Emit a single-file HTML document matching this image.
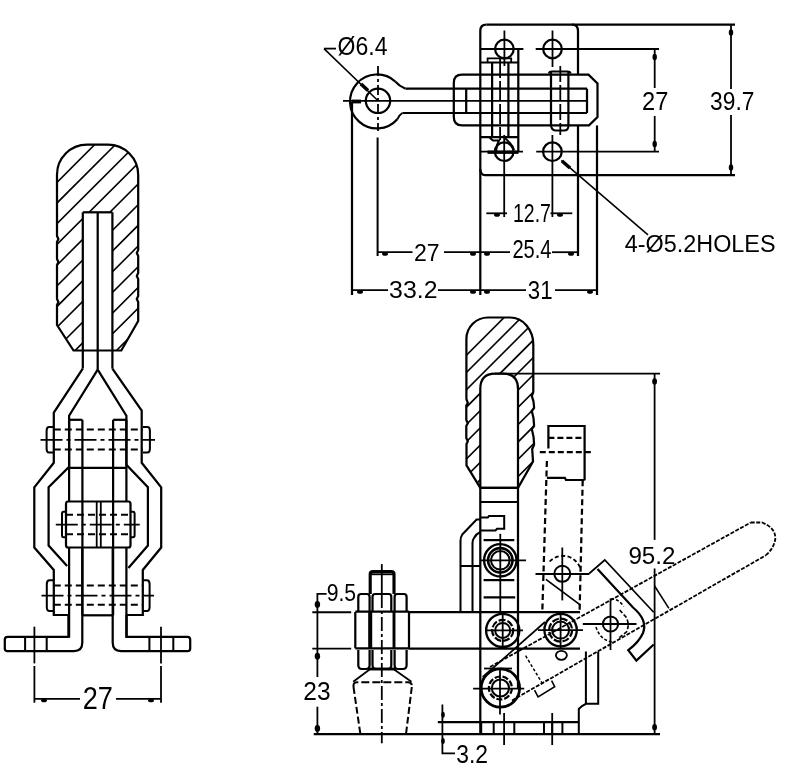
<!DOCTYPE html>
<html><head><meta charset="utf-8"><style>
html,body{margin:0;padding:0;background:#fff;}
svg{display:block;}
text{font-family:"Liberation Sans",sans-serif;fill:#000;}
svg{will-change:transform;}
</style></head><body>
<svg width="790" height="782" viewBox="0 0 790 782">
<defs><clipPath id="gl"><path d="M87 144.7 H108 A30.2 30.2 0 0 1 138.2 174.9 V250 L136.8 253 L138.2 256 V273 L136.8 276 L138.2 279 V296 L136.8 299 L138.2 302 V321 L121.3 350.5 H73.5 L57 325 V305 L58.4 302 L57 299 V265 L58.4 262 L57 259 V242 L58.4 239 L57 236 V174.9 A30 30 0 0 1 87 144.7 Z M82.8 212.3 V350.5 H112.4 V212.3 Z" clip-rule="evenodd"/></clipPath><clipPath id="gf"><path d="M488 317.5 H510.2 A23.1 27 0 0 1 533.3 344.5 L533.3 392 L531.8 396 Q534.3 402 534 408 L531.8 411 Q534.3 419 534 426 L531.8 429 Q534.3 438 534 445 L532.2 449 L533 461.6 L518 487.8 H480.3 L466.5 465.4 V444 L467.8 441.2 L466.3 438 V426 L467.8 423.2 L466.3 420 V405.5 L467.8 402.8 L466.4 399 V339 A21.5 21.5 0 0 1 488 317.5 Z M480.3 487.8 V389 Q480.3 373.6 495 373.6 H503 Q518 373.6 518 389 V487.8 Z" clip-rule="evenodd"/></clipPath></defs>
<rect width="790" height="782" fill="#fff"/>
<path d="M480.3 31 Q480.3 24.7 486.5 24.7" fill="none" stroke="#000" stroke-width="2.24"/>
<line x1="486.5" y1="24.7" x2="735" y2="24.7" stroke="#000" stroke-width="2.24"/>
<path d="M572 24.7 Q578 24.7 578 31" fill="none" stroke="#000" stroke-width="2.24"/>
<line x1="578" y1="31" x2="578" y2="74.7" stroke="#000" stroke-width="2.24"/>
<line x1="578" y1="125.4" x2="578" y2="256" stroke="#000" stroke-width="2.24"/>
<line x1="480.3" y1="31" x2="480.3" y2="295" stroke="#000" stroke-width="2.24"/>
<path d="M480.3 169 Q480.5 175.2 485 175.2" fill="none" stroke="#000" stroke-width="2.24"/>
<line x1="485" y1="175.2" x2="735" y2="175.2" stroke="#000" stroke-width="2.24"/>
<circle cx="504.4" cy="49" r="9.3" fill="none" stroke="#000" stroke-width="2.24"/>
<circle cx="552.5" cy="49" r="9.3" fill="none" stroke="#000" stroke-width="2.24"/>
<circle cx="504.2" cy="151.7" r="9.3" fill="none" stroke="#000" stroke-width="2.24"/>
<circle cx="552.4" cy="151.7" r="9.3" fill="none" stroke="#000" stroke-width="2.24"/>
<line x1="480.3" y1="49" x2="523.4" y2="49" stroke="#000" stroke-width="1.79"/>
<line x1="535.7" y1="49" x2="659" y2="49" stroke="#000" stroke-width="1.79"/>
<line x1="480.3" y1="151.7" x2="523" y2="151.7" stroke="#000" stroke-width="1.79"/>
<line x1="536.2" y1="151.7" x2="659" y2="151.7" stroke="#000" stroke-width="1.79"/>
<line x1="504.4" y1="30.5" x2="504.4" y2="66" stroke="#000" stroke-width="1.79"/>
<line x1="552.5" y1="30.5" x2="552.5" y2="67" stroke="#000" stroke-width="1.79"/>
<line x1="504.2" y1="135" x2="504.2" y2="217" stroke="#000" stroke-width="1.79"/>
<line x1="552.4" y1="135" x2="552.4" y2="217" stroke="#000" stroke-width="1.79"/>
<path d="M462 74.7 H588.5 L597.5 83.5 V117 L589 125.4 H462 Q453.8 125.4 453.8 117 V83 Q453.8 74.7 462 74.7 Z" fill="none" stroke="#000" stroke-width="2.24"/>
<line x1="597" y1="125.4" x2="597" y2="295" stroke="#000" stroke-width="2.24"/>
<line x1="405.5" y1="88.7" x2="587" y2="88.7" stroke="#000" stroke-width="2.24"/>
<line x1="402.4" y1="113" x2="587" y2="113" stroke="#000" stroke-width="2.24"/>
<line x1="343" y1="100.8" x2="587" y2="100.8" stroke="#000" stroke-width="1.79"/>
<line x1="466.2" y1="88.7" x2="466.2" y2="113" stroke="#000" stroke-width="2.24"/>
<line x1="587" y1="88.7" x2="587" y2="113" stroke="#000" stroke-width="2.24"/>
<line x1="492.1" y1="62.5" x2="492.1" y2="137.2" stroke="#000" stroke-width="2.24"/>
<line x1="508.4" y1="62.5" x2="508.4" y2="137.2" stroke="#000" stroke-width="2.24"/>
<line x1="518.3" y1="49" x2="518.3" y2="151.7" stroke="#000" stroke-width="2.24"/>
<line x1="500.1" y1="58" x2="500.1" y2="140" stroke="#000" stroke-width="1.79" stroke-dasharray="20 3"/>
<line x1="480.3" y1="62.5" x2="518.3" y2="62.5" stroke="#000" stroke-width="2.24"/>
<line x1="480.3" y1="137.2" x2="518.3" y2="137.2" stroke="#000" stroke-width="2.24"/>
<path d="M487.6 62.5 V58.4 H511.2 V62.5" fill="none" stroke="#000" stroke-width="1.79"/>
<line x1="487.5" y1="152.2" x2="518.5" y2="152.2" stroke="#000" stroke-width="3.36"/>
<path d="M489.4 137.5 L493 140.5 H499 L497 145 L496 152" fill="none" stroke="#000" stroke-width="2.02"/>
<path d="M505 138 L510 143 Q513 146 514 150" fill="none" stroke="#000" stroke-width="1.79"/>
<line x1="551" y1="71.4" x2="551" y2="126" stroke="#000" stroke-width="2.24"/>
<line x1="568.4" y1="71.4" x2="568.4" y2="126" stroke="#000" stroke-width="2.24"/>
<line x1="560.3" y1="66" x2="560.3" y2="135" stroke="#000" stroke-width="1.79" stroke-dasharray="16 3"/>
<path d="M549 73.5 Q549 71.4 552 71.4 H567.5 Q570.5 71.4 570.5 73.5" fill="none" stroke="#000" stroke-width="2.02"/>
<path d="M551 126 Q552 130.5 556 130.5 H564 Q568.4 130.5 568.4 126" fill="none" stroke="#000" stroke-width="2.02"/>
<path d="M395.2 81.5 A27 27 0 1 0 397.3 119.3" fill="none" stroke="#000" stroke-width="2.24"/>
<path d="M395.2 81.5 Q399 86 405.5 88.7" fill="none" stroke="#000" stroke-width="2.02"/>
<path d="M397.3 119.3 Q399 115 402.4 113" fill="none" stroke="#000" stroke-width="2.02"/>
<circle cx="378" cy="100.8" r="12.2" fill="none" stroke="#000" stroke-width="2.24"/>
<line x1="378" y1="66" x2="378" y2="131" stroke="#000" stroke-width="1.79" stroke-dasharray="10 3 3 3"/>
<line x1="377.6" y1="137.5" x2="377.6" y2="256" stroke="#000" stroke-width="2.02"/>
<line x1="352" y1="102" x2="352" y2="295" stroke="#000" stroke-width="2.24"/>
<line x1="324" y1="48.6" x2="378" y2="100.8" stroke="#000" stroke-width="1.57"/>
<line x1="324" y1="48.6" x2="336" y2="48.6" stroke="#000" stroke-width="1.79"/>
<path d="M361 84 L368 90.5" fill="none" stroke="#000" stroke-width="3.58"/>
<line x1="352" y1="101.5" x2="361" y2="101.5" stroke="#000" stroke-width="3.81"/>
<text x="337.59" y="55.48" font-size="24.97" textLength="49.86" lengthAdjust="spacingAndGlyphs">Ø6.4</text>
<line x1="654.7" y1="49" x2="654.7" y2="88" stroke="#000" stroke-width="1.79"/>
<line x1="654.7" y1="116" x2="654.7" y2="151.7" stroke="#000" stroke-width="1.79"/>
<ellipse cx="654.7" cy="57" rx="2.2" ry="3.2" fill="#000"/>
<ellipse cx="654.7" cy="144" rx="2.2" ry="3.2" fill="#000"/>
<text x="642.12" y="109.80" font-size="25.29" textLength="26.32" lengthAdjust="spacingAndGlyphs">27</text>
<line x1="731" y1="24.7" x2="731" y2="89" stroke="#000" stroke-width="1.79"/>
<line x1="731" y1="115" x2="731" y2="175.2" stroke="#000" stroke-width="1.79"/>
<ellipse cx="731" cy="32.5" rx="2.2" ry="3.2" fill="#000"/>
<ellipse cx="731" cy="167.5" rx="2.2" ry="3.2" fill="#000"/>
<text x="710.09" y="109.75" font-size="24.93" textLength="44.28" lengthAdjust="spacingAndGlyphs">39.7</text>
<line x1="486.3" y1="213.3" x2="507" y2="213.3" stroke="#000" stroke-width="1.79"/>
<line x1="550.5" y1="213.3" x2="572.3" y2="213.3" stroke="#000" stroke-width="1.79"/>
<ellipse cx="497" cy="215" rx="3" ry="1.8" fill="#000"/>
<ellipse cx="560" cy="215" rx="3" ry="1.8" fill="#000"/>
<text x="512.94" y="222.30" font-size="26.14" textLength="37.96" lengthAdjust="spacingAndGlyphs">12.7</text>
<line x1="377.4" y1="252.2" x2="412.5" y2="252.2" stroke="#000" stroke-width="1.79"/>
<line x1="444" y1="252.2" x2="510" y2="252.2" stroke="#000" stroke-width="1.79"/>
<line x1="552" y1="252.2" x2="578" y2="252.2" stroke="#000" stroke-width="1.79"/>
<ellipse cx="385" cy="254" rx="3" ry="1.8" fill="#000"/>
<ellipse cx="473" cy="254" rx="3" ry="1.8" fill="#000"/>
<ellipse cx="487" cy="254" rx="3" ry="1.8" fill="#000"/>
<ellipse cx="571" cy="254" rx="3" ry="1.8" fill="#000"/>
<text x="414.05" y="260.80" font-size="24.71" textLength="25.66" lengthAdjust="spacingAndGlyphs">27</text>
<text x="512.39" y="258.44" font-size="25.63" textLength="39.14" lengthAdjust="spacingAndGlyphs">25.4</text>
<line x1="352" y1="290.2" x2="388" y2="290.2" stroke="#000" stroke-width="1.79"/>
<line x1="438" y1="290.2" x2="526" y2="290.2" stroke="#000" stroke-width="1.79"/>
<line x1="555" y1="290.2" x2="597" y2="290.2" stroke="#000" stroke-width="1.79"/>
<ellipse cx="360" cy="292" rx="3" ry="1.8" fill="#000"/>
<ellipse cx="473" cy="292" rx="3" ry="1.8" fill="#000"/>
<ellipse cx="487" cy="292" rx="3" ry="1.8" fill="#000"/>
<ellipse cx="590" cy="292" rx="3" ry="1.8" fill="#000"/>
<text x="389.11" y="298.35" font-size="24.79" textLength="48.37" lengthAdjust="spacingAndGlyphs">33.2</text>
<text x="527.81" y="299.34" font-size="25.77" textLength="24.74" lengthAdjust="spacingAndGlyphs">31</text>
<line x1="561.3" y1="160.4" x2="648" y2="234.9" stroke="#000" stroke-width="1.57"/>
<path d="M562 161 L570 168" fill="none" stroke="#000" stroke-width="3.58"/>
<text x="624.83" y="252.30" font-size="24.16" textLength="150.68" lengthAdjust="spacingAndGlyphs">4-Ø5.2HOLES</text>
<g clip-path="url(#gl)"><line x1="-743.5" y1="900" x2="256.50000000000006" y2="-100" stroke="#000" stroke-width="1.6"/><line x1="-722.8" y1="900" x2="277.20000000000005" y2="-100" stroke="#000" stroke-width="1.6"/><line x1="-702.0999999999999" y1="900" x2="297.90000000000003" y2="-100" stroke="#000" stroke-width="1.6"/><line x1="-681.4" y1="900" x2="318.6" y2="-100" stroke="#000" stroke-width="1.6"/><line x1="-660.7" y1="900" x2="339.3" y2="-100" stroke="#000" stroke-width="1.6"/><line x1="-640.0" y1="900" x2="360.0" y2="-100" stroke="#000" stroke-width="1.6"/><line x1="-619.3" y1="900" x2="380.7" y2="-100" stroke="#000" stroke-width="1.6"/><line x1="-598.6" y1="900" x2="401.4" y2="-100" stroke="#000" stroke-width="1.6"/><line x1="-577.9000000000001" y1="900" x2="422.09999999999997" y2="-100" stroke="#000" stroke-width="1.6"/><line x1="-557.2" y1="900" x2="442.79999999999995" y2="-100" stroke="#000" stroke-width="1.6"/><line x1="-536.5" y1="900" x2="463.49999999999994" y2="-100" stroke="#000" stroke-width="1.6"/><line x1="-515.8000000000001" y1="900" x2="484.19999999999993" y2="-100" stroke="#000" stroke-width="1.6"/><line x1="-495.1000000000001" y1="900" x2="504.8999999999999" y2="-100" stroke="#000" stroke-width="1.6"/><line x1="-474.4000000000001" y1="900" x2="525.5999999999999" y2="-100" stroke="#000" stroke-width="1.6"/><line x1="-453.7000000000001" y1="900" x2="546.3" y2="-100" stroke="#000" stroke-width="1.6"/><line x1="-433.0000000000001" y1="900" x2="566.9999999999999" y2="-100" stroke="#000" stroke-width="1.6"/><line x1="-412.3000000000001" y1="900" x2="587.6999999999998" y2="-100" stroke="#000" stroke-width="1.6"/></g>
<path d="M87 144.7 H108 A30.2 30.2 0 0 1 138.2 174.9 V250 L136.8 253 L138.2 256 V273 L136.8 276 L138.2 279 V296 L136.8 299 L138.2 302 V321 L121.3 350.5 H73.5 L57 325 V305 L58.4 302 L57 299 V265 L58.4 262 L57 259 V242 L58.4 239 L57 236 V174.9 A30 30 0 0 1 87 144.7 Z" fill="none" stroke="#000" stroke-width="2.24"/>
<line x1="82.8" y1="212.3" x2="112.4" y2="212.3" stroke="#000" stroke-width="2.24"/>
<line x1="82.8" y1="212.3" x2="82.8" y2="368.6" stroke="#000" stroke-width="2.24"/>
<line x1="112.4" y1="212.3" x2="112.4" y2="368.6" stroke="#000" stroke-width="2.24"/>
<line x1="97.7" y1="212.3" x2="97.7" y2="369.7" stroke="#000" stroke-width="2.24"/>
<path d="M82.8 368.6 L53.8 412.6 V462.8 L34.3 487.3 V547.5 L53.8 570 V615 H69" fill="none" stroke="#000" stroke-width="2.24"/>
<path d="M112.4 368.6 L141.7 410.6 V462.8 L161.2 487.3 V547.5 L142.8 570 V615 H126.4" fill="none" stroke="#000" stroke-width="2.24"/>
<path d="M97.7 369.7 L69.1 415.7 V466.9 L48.6 487.3 V545.5 L67.1 566" fill="none" stroke="#000" stroke-width="2.24"/>
<path d="M97.7 369.7 L126.4 415.7 V464.8 L147.9 487.3 V545.5 L128.4 568" fill="none" stroke="#000" stroke-width="2.24"/>
<line x1="69.1" y1="419.8" x2="69.1" y2="501.5" stroke="#000" stroke-width="2.24"/>
<line x1="69.1" y1="547.5" x2="69.1" y2="637.6" stroke="#000" stroke-width="2.24"/>
<line x1="126.4" y1="419.8" x2="126.4" y2="501.5" stroke="#000" stroke-width="2.24"/>
<line x1="126.4" y1="547.5" x2="126.4" y2="637.6" stroke="#000" stroke-width="2.24"/>
<line x1="82.4" y1="419.8" x2="82.4" y2="615.3" stroke="#000" stroke-width="2.24"/>
<line x1="113.1" y1="419.8" x2="113.1" y2="615.3" stroke="#000" stroke-width="2.24"/>
<line x1="69.1" y1="419.8" x2="82.4" y2="419.8" stroke="#000" stroke-width="2.24"/>
<line x1="113.1" y1="419.8" x2="126.4" y2="419.8" stroke="#000" stroke-width="2.24"/>
<line x1="69.1" y1="467.9" x2="126.4" y2="467.9" stroke="#000" stroke-width="2.24"/>
<line x1="40.5" y1="439.8" x2="155" y2="439.8" stroke="#000" stroke-width="1.79" stroke-dasharray="22 4 4 4"/>
<line x1="53.8" y1="429.6" x2="142.8" y2="429.6" stroke="#000" stroke-width="2.02" stroke-dasharray="7 4"/>
<line x1="53.8" y1="449.5" x2="142.8" y2="449.5" stroke="#000" stroke-width="2.02" stroke-dasharray="7 4"/>
<path d="M53.8 427 H49 Q46.6 427 46.6 431 V448.5 Q46.6 452.5 49 452.5 H53.8" fill="none" stroke="#000" stroke-width="2.02"/>
<path d="M142.8 427 H147.5 Q149.9 427 149.9 431 V448.5 Q149.9 452.5 147.5 452.5 H142.8" fill="none" stroke="#000" stroke-width="2.02"/>
<path d="M68 501.5 H128.5 Q130.5 501.5 130.5 504 V545 Q130.5 547.5 128.5 547.5 H68 Q66 547.5 66 545 V504 Q66 501.5 68 501.5 Z" fill="none" stroke="#000" stroke-width="2.24"/>
<line x1="96.7" y1="501.5" x2="96.7" y2="547.5" stroke="#000" stroke-width="1.79"/>
<line x1="100.8" y1="501.5" x2="100.8" y2="547.5" stroke="#000" stroke-width="1.79"/>
<line x1="66" y1="514.8" x2="130.5" y2="514.8" stroke="#000" stroke-width="2.02" stroke-dasharray="7 4"/>
<line x1="66" y1="534.2" x2="130.5" y2="534.2" stroke="#000" stroke-width="2.02" stroke-dasharray="7 4"/>
<line x1="55.8" y1="524.6" x2="139.7" y2="524.6" stroke="#000" stroke-width="1.79" stroke-dasharray="22 4 4 4"/>
<path d="M66 511.7 H63.5 Q62 511.7 62 514 V535 Q62 537.3 63.5 537.3 H66" fill="none" stroke="#000" stroke-width="2.02"/>
<path d="M130.5 511.7 H133 Q134.6 511.7 134.6 514 V535 Q134.6 537.3 133 537.3 H130.5" fill="none" stroke="#000" stroke-width="2.02"/>
<line x1="41.5" y1="595.6" x2="154" y2="595.6" stroke="#000" stroke-width="1.79" stroke-dasharray="22 4 4 4"/>
<line x1="53.8" y1="585.4" x2="142.8" y2="585.4" stroke="#000" stroke-width="2.02" stroke-dasharray="7 4"/>
<line x1="53.8" y1="604.8" x2="142.8" y2="604.8" stroke="#000" stroke-width="2.02" stroke-dasharray="7 4"/>
<path d="M53.8 580.3 H49.5 Q46.8 580.3 46.8 584 V607 Q46.8 611 49.5 611 H53.8" fill="none" stroke="#000" stroke-width="2.02"/>
<path d="M142.8 580.3 H147 Q149.6 580.3 149.6 584 V607 Q149.6 611 147 611 H142.8" fill="none" stroke="#000" stroke-width="2.02"/>
<line x1="82.4" y1="615.3" x2="113.1" y2="615.3" stroke="#000" stroke-width="2.24"/>
<path d="M68.4 615 V636.8 H7.5 Q4.8 636.8 4.8 639.5 V648.4 Q4.8 651.1 7.5 651.1 H74 Q82.3 651.1 82.3 642.5 V547.5" fill="none" stroke="#000" stroke-width="2.24"/>
<path d="M126.6 615 V636.8 H187.5 Q190.2 636.8 190.2 639.5 V648.4 Q190.2 651.1 187.5 651.1 H121 Q112.7 651.1 112.7 642.5 V547.5" fill="none" stroke="#000" stroke-width="2.24"/>
<line x1="25.1" y1="636.8" x2="25.1" y2="651.1" stroke="#000" stroke-width="2.02"/>
<line x1="46.7" y1="636.8" x2="46.7" y2="651.1" stroke="#000" stroke-width="2.02"/>
<line x1="149.4" y1="636.8" x2="149.4" y2="651.1" stroke="#000" stroke-width="2.02"/>
<line x1="173.3" y1="636.8" x2="173.3" y2="651.1" stroke="#000" stroke-width="2.02"/>
<line x1="34.4" y1="626.7" x2="34.4" y2="663.4" stroke="#000" stroke-width="1.79"/>
<line x1="34.4" y1="666" x2="34.4" y2="702.7" stroke="#000" stroke-width="1.79"/>
<line x1="161" y1="626.7" x2="161" y2="663.4" stroke="#000" stroke-width="1.79"/>
<line x1="161" y1="666" x2="161" y2="702.7" stroke="#000" stroke-width="1.79"/>
<line x1="34.2" y1="698.9" x2="80" y2="698.9" stroke="#000" stroke-width="1.79"/>
<line x1="116" y1="698.9" x2="160.8" y2="698.9" stroke="#000" stroke-width="1.79"/>
<ellipse cx="44" cy="700.5" rx="3" ry="1.8" fill="#000"/>
<ellipse cx="151" cy="700.5" rx="3" ry="1.8" fill="#000"/>
<text x="82.64" y="709.20" font-size="31.43" textLength="30.18" lengthAdjust="spacingAndGlyphs">27</text>
<g clip-path="url(#gf)"><line x1="-78.39999999999998" y1="900" x2="921.6" y2="-100" stroke="#000" stroke-width="1.6"/><line x1="-61.10000000000002" y1="900" x2="938.9" y2="-100" stroke="#000" stroke-width="1.6"/><line x1="-43.80000000000007" y1="900" x2="956.1999999999999" y2="-100" stroke="#000" stroke-width="1.6"/><line x1="-26.500000000000114" y1="900" x2="973.4999999999999" y2="-100" stroke="#000" stroke-width="1.6"/><line x1="-9.20000000000016" y1="900" x2="990.7999999999998" y2="-100" stroke="#000" stroke-width="1.6"/><line x1="8.099999999999795" y1="900" x2="1008.0999999999998" y2="-100" stroke="#000" stroke-width="1.6"/><line x1="25.39999999999975" y1="900" x2="1025.3999999999996" y2="-100" stroke="#000" stroke-width="1.6"/><line x1="42.699999999999704" y1="900" x2="1042.6999999999998" y2="-100" stroke="#000" stroke-width="1.6"/><line x1="59.99999999999966" y1="900" x2="1059.9999999999995" y2="-100" stroke="#000" stroke-width="1.6"/><line x1="77.29999999999961" y1="900" x2="1077.2999999999997" y2="-100" stroke="#000" stroke-width="1.6"/><line x1="94.59999999999957" y1="900" x2="1094.5999999999995" y2="-100" stroke="#000" stroke-width="1.6"/><line x1="111.89999999999952" y1="900" x2="1111.8999999999996" y2="-100" stroke="#000" stroke-width="1.6"/></g>
<path d="M488 317.5 H510.2 A23.1 27 0 0 1 533.3 344.5 L533.3 392 L531.8 396 Q534.3 402 534 408 L531.8 411 Q534.3 419 534 426 L531.8 429 Q534.3 438 534 445 L532.2 449 L533 461.6 L518 487.8 H480.3 L466.5 465.4 V444 L467.8 441.2 L466.3 438 V426 L467.8 423.2 L466.3 420 V405.5 L467.8 402.8 L466.4 399 V339 A21.5 21.5 0 0 1 488 317.5 Z" fill="none" stroke="#000" stroke-width="2.24"/>
<path d="M480.3 734.2 V389 Q480.3 373.6 495 373.6 H503 Q518 373.6 518 389 V612" fill="none" stroke="#000" stroke-width="2.24"/>
<line x1="495" y1="373.6" x2="660" y2="373.6" stroke="#000" stroke-width="1.79"/>
<line x1="480.3" y1="487.8" x2="518" y2="487.8" stroke="#000" stroke-width="2.24"/>
<line x1="480.3" y1="502" x2="518" y2="502" stroke="#000" stroke-width="2.24"/>
<path d="M480.3 517.6 H487.8 L489 516 H504.2 V528.8 H497 L495.5 530.4 H480.3" fill="none" stroke="#000" stroke-width="2.02"/>
<path d="M480.3 519.5 H476.6 L462.3 534.5 Q460.5 537 460.5 541 V612" fill="none" stroke="#000" stroke-width="2.02"/>
<path d="M480.3 532 Q476 534 474 538 Q472.5 540 472.5 543 V612" fill="none" stroke="#000" stroke-width="2.02"/>
<line x1="460.5" y1="566" x2="480.3" y2="566" stroke="#000" stroke-width="2.02"/>
<circle cx="500.3" cy="560.3" r="16.2" fill="none" stroke="#000" stroke-width="2.35"/>
<circle cx="500.3" cy="560.3" r="12.2" fill="none" stroke="#000" stroke-width="2.58"/>
<circle cx="500.3" cy="560.3" r="9.3" fill="none" stroke="#000" stroke-width="2.02"/>
<line x1="483.6" y1="540.1" x2="514.3" y2="540.1" stroke="#000" stroke-width="2.24"/>
<line x1="483.6" y1="580.1" x2="514.3" y2="580.1" stroke="#000" stroke-width="2.24"/>
<line x1="483.6" y1="597.4" x2="515.2" y2="597.4" stroke="#000" stroke-width="2.24"/>
<line x1="500.3" y1="533.8" x2="500.3" y2="612" stroke="#000" stroke-width="1.79"/>
<line x1="480.3" y1="560.3" x2="526" y2="560.3" stroke="#000" stroke-width="1.79"/>
<line x1="409" y1="612.2" x2="580" y2="612.2" stroke="#000" stroke-width="2.24"/>
<line x1="409" y1="648.6" x2="580" y2="648.6" stroke="#000" stroke-width="2.24"/>
<circle cx="502.7" cy="630.4" r="16.6" fill="none" stroke="#000" stroke-width="2.35"/>
<circle cx="502.7" cy="630.4" r="10.5" fill="none" stroke="#000" stroke-width="2.24" stroke-dasharray="7 2"/>
<circle cx="502.7" cy="630.4" r="7.5" fill="none" stroke="#000" stroke-width="2.02"/>
<line x1="486" y1="630.4" x2="523" y2="630.4" stroke="#000" stroke-width="1.79"/>
<line x1="502.7" y1="614" x2="502.7" y2="648" stroke="#000" stroke-width="1.79"/>
<circle cx="500.4" cy="688" r="19.2" fill="none" stroke="#000" stroke-width="2.80"/>
<circle cx="500.4" cy="688" r="11.5" fill="none" stroke="#000" stroke-width="2.24" stroke-dasharray="6 2"/>
<circle cx="500.4" cy="688" r="8.6" fill="none" stroke="#000" stroke-width="2.02"/>
<line x1="473.1" y1="688.7" x2="524.2" y2="688.7" stroke="#000" stroke-width="1.79"/>
<line x1="500" y1="668" x2="500" y2="714.6" stroke="#000" stroke-width="1.79"/>
<line x1="484" y1="668.5" x2="512" y2="668.5" stroke="#000" stroke-width="1.79"/>
<line x1="518" y1="612" x2="518" y2="689" stroke="#000" stroke-width="2.24"/>
<line x1="313.7" y1="734.2" x2="660" y2="734.2" stroke="#000" stroke-width="2.24"/>
<line x1="437.8" y1="722.2" x2="578.8" y2="722.2" stroke="#000" stroke-width="2.24"/>
<path d="M585.9 651.6 V703.8 H598.2 V651.6" fill="none" stroke="#000" stroke-width="2.02"/>
<path d="M585.9 703.8 L582 706 L578.8 708.9 V734.2" fill="none" stroke="#000" stroke-width="2.02"/>
<line x1="481.2" y1="722.2" x2="481.2" y2="734.2" stroke="#000" stroke-width="2.02"/>
<line x1="493.7" y1="722.2" x2="493.7" y2="734.2" stroke="#000" stroke-width="2.02"/>
<line x1="514.3" y1="722.2" x2="514.3" y2="734.2" stroke="#000" stroke-width="2.02"/>
<line x1="544" y1="722.2" x2="544" y2="734.2" stroke="#000" stroke-width="2.02"/>
<line x1="552.2" y1="722.2" x2="552.2" y2="734.2" stroke="#000" stroke-width="2.02"/>
<line x1="562.4" y1="722.2" x2="562.4" y2="734.2" stroke="#000" stroke-width="2.02"/>
<line x1="504.1" y1="713" x2="504.1" y2="745" stroke="#000" stroke-width="1.79"/>
<line x1="552.2" y1="713" x2="552.2" y2="745" stroke="#000" stroke-width="1.79"/>
<path d="M548.4 448.4 V426 H584.6 V480.3" fill="none" stroke="#000" stroke-width="2.24"/>
<line x1="548.4" y1="437.9" x2="584.6" y2="437.9" stroke="#000" stroke-width="2.24" stroke-dasharray="6 3"/>
<line x1="539.8" y1="452.2" x2="592.9" y2="452.2" stroke="#000" stroke-width="2.24" stroke-dasharray="6 3"/>
<line x1="546.9" y1="461" x2="542.3" y2="612" stroke="#000" stroke-width="2.24" stroke-dasharray="6 3.5"/>
<line x1="582.7" y1="480.3" x2="579.6" y2="612" stroke="#000" stroke-width="2.24" stroke-dasharray="6 3.5"/>
<path d="M546.9 477.8 H564.8 L566 480 H584.6" fill="none" stroke="#000" stroke-width="2.24"/>
<circle cx="562.3" cy="573.8" r="8" fill="none" stroke="#000" stroke-width="2.02"/>
<line x1="535.5" y1="574" x2="589.3" y2="574" stroke="#000" stroke-width="1.79"/>
<line x1="562.3" y1="547.5" x2="562.3" y2="600.4" stroke="#000" stroke-width="1.79"/>
<path d="M549.6 561.5 A18.5 18.5 0 0 1 580.8 569.7" fill="none" stroke="#000" stroke-width="1.79" stroke-dasharray="4 2.5"/>
<line x1="545.9" y1="579.4" x2="579.5" y2="604.4" stroke="#000" stroke-width="1.79"/>
<circle cx="560.6" cy="630.1" r="16.2" fill="none" stroke="#000" stroke-width="2.35"/>
<circle cx="560.6" cy="630.1" r="11.5" fill="none" stroke="#000" stroke-width="2.24" stroke-dasharray="7 2"/>
<circle cx="560.6" cy="630.1" r="8.5" fill="none" stroke="#000" stroke-width="2.02"/>
<line x1="538" y1="630.1" x2="583" y2="630.1" stroke="#000" stroke-width="1.79"/>
<line x1="560.6" y1="612" x2="560.6" y2="648" stroke="#000" stroke-width="1.79"/>
<ellipse cx="561.4" cy="655.3" rx="5.5" ry="4.5" fill="none" stroke="#000" stroke-width="1.8"/>
<circle cx="610.5" cy="624" r="7.6" fill="none" stroke="#000" stroke-width="2.02"/>
<line x1="582.8" y1="624" x2="636.5" y2="624" stroke="#000" stroke-width="1.79"/>
<line x1="610.5" y1="598.4" x2="610.5" y2="650" stroke="#000" stroke-width="1.79"/>
<line x1="490" y1="667" x2="750.7" y2="522.5" stroke="#000" stroke-width="1.79" stroke-dasharray="4 1.5"/>
<line x1="512" y1="700.5" x2="766" y2="555.2" stroke="#000" stroke-width="1.79" stroke-dasharray="4 1.5"/>
<line x1="482.7" y1="677" x2="545" y2="622" stroke="#000" stroke-width="1.68"/>
<line x1="525.6" y1="655.7" x2="542.6" y2="683.9" stroke="#000" stroke-width="1.46" stroke-dasharray="3 2"/>
<path d="M534.5 690.1 L538.1 696.8 L554.7 686.6 L551.6 680.7" fill="none" stroke="#000" stroke-width="1.57"/>
<path d="M750.7 522.5 H762 Q776 528 775.3 539 Q774 548 766 555.2" fill="none" stroke="#000" stroke-width="1.79" stroke-dasharray="4 1.5"/>
<line x1="654.6" y1="586" x2="668.9" y2="608.4" stroke="#000" stroke-width="1.57"/>
<path d="M589.2 573.5 L604.8 560 L653.7 612.2" fill="none" stroke="#000" stroke-width="1.68"/>
<path d="M597.5 569.1 L633 607.5 Q648 620 643 633 Q639 642 628.3 650.2 L636.4 660.6 L653.7 644.5" fill="none" stroke="#000" stroke-width="2.24"/>
<path d="M619.7 610 L626 617 Q630 624 626.6 631.8 L618 638.7" fill="none" stroke="#000" stroke-width="1.68" stroke-dasharray="4 2"/>
<path d="M611 599 Q619 599 623.7 606.5" fill="none" stroke="#000" stroke-width="1.57" stroke-dasharray="3 2"/>
<path d="M596 627 Q600 640 612 642" fill="none" stroke="#000" stroke-width="1.57" stroke-dasharray="3 2"/>
<line x1="654.6" y1="373.6" x2="654.6" y2="539.9" stroke="#000" stroke-width="1.79"/>
<line x1="654.6" y1="568.5" x2="654.6" y2="734.2" stroke="#000" stroke-width="1.79"/>
<ellipse cx="654.6" cy="381.5" rx="2.4" ry="3.2" fill="#000"/>
<ellipse cx="654.6" cy="727.3" rx="2.4" ry="3.2" fill="#000"/>
<text x="628.41" y="564.35" font-size="24.79" textLength="47.03" lengthAdjust="spacingAndGlyphs">95.2</text>
<line x1="381.8" y1="564.1" x2="381.8" y2="594" stroke="#000" stroke-width="1.79"/>
<line x1="381.8" y1="594" x2="381.8" y2="743.2" stroke="#000" stroke-width="1.79" stroke-dasharray="14 3 3 3"/>
<path d="M370.2 594 V574 Q370.2 571.6 373 571.6 H391.2 Q394 571.6 394 574 V594" fill="none" stroke="#000" stroke-width="3.14"/>
<line x1="371" y1="574.3" x2="393" y2="574.3" stroke="#000" stroke-width="1.79"/>
<path d="M358.3 611 V597 Q358.3 594 361 594 H367 Q369.6 594 369.6 597 V611" fill="none" stroke="#000" stroke-width="2.24"/>
<path d="M372.5 611 V597 Q372.5 594 375 594 H389 Q391.3 594 391.3 597 V611" fill="none" stroke="#000" stroke-width="2.24"/>
<path d="M394.6 611 V597 Q394.6 594 397 594 H404 Q406.6 594 406.6 597 V611" fill="none" stroke="#000" stroke-width="2.24"/>
<path d="M355.3 612 V648.2 M409 612 V648.2" fill="none" stroke="#000" stroke-width="2.24"/>
<line x1="370.2" y1="612" x2="370.2" y2="648.2" stroke="#000" stroke-width="4.03"/>
<line x1="394" y1="612" x2="394" y2="648.2" stroke="#000" stroke-width="2.91"/>
<line x1="355.3" y1="611.6" x2="409" y2="611.6" stroke="#000" stroke-width="2.24"/>
<line x1="355.3" y1="648.4" x2="409" y2="648.4" stroke="#000" stroke-width="2.24"/>
<path d="M358.3 650 V665 Q358.3 669 362 669 H366 Q369.6 669 369.6 665 V650" fill="none" stroke="#000" stroke-width="2.24"/>
<path d="M394.6 650 V665 Q394.6 669 398 669 H403 Q406.6 669 406.6 665 V650" fill="none" stroke="#000" stroke-width="2.24"/>
<path d="M372.5 650 V665 Q372.5 669 376 669 H388 Q391.3 669 391.3 665 V650" fill="none" stroke="#000" stroke-width="2.24"/>
<line x1="368" y1="669" x2="396" y2="669" stroke="#000" stroke-width="2.91"/>
<line x1="369.6" y1="669.5" x2="353.2" y2="681.7" stroke="#000" stroke-width="1.79"/>
<line x1="394.1" y1="669.5" x2="411.5" y2="681.7" stroke="#000" stroke-width="1.79"/>
<path d="M353.5 687 Q353 682.3 357 682.3 H408 Q412.3 682.3 411.8 687" fill="none" stroke="#000" stroke-width="2.02" stroke-dasharray="8 3"/>
<line x1="353.5" y1="687" x2="360.4" y2="734.2" stroke="#000" stroke-width="2.02" stroke-dasharray="7 3"/>
<line x1="411.8" y1="687" x2="406" y2="734.2" stroke="#000" stroke-width="2.02" stroke-dasharray="7 3"/>
<line x1="312.3" y1="612.2" x2="351.2" y2="612.2" stroke="#000" stroke-width="1.90"/>
<line x1="312.3" y1="648.6" x2="351.2" y2="648.6" stroke="#000" stroke-width="1.90"/>
<path d="M317.4 612.2 V593.8 H326.6" fill="none" stroke="#000" stroke-width="1.79"/>
<ellipse cx="317.4" cy="604.4" rx="2.7" ry="3.4" fill="#000"/>
<line x1="317.4" y1="612.2" x2="317.4" y2="677" stroke="#000" stroke-width="1.79"/>
<line x1="317.4" y1="706.7" x2="317.4" y2="734.2" stroke="#000" stroke-width="1.79"/>
<ellipse cx="317.4" cy="656.2" rx="2.7" ry="3.4" fill="#000"/>
<ellipse cx="317.4" cy="728.4" rx="2.7" ry="3.4" fill="#000"/>
<text x="326.65" y="600.65" font-size="24.51" textLength="29.40" lengthAdjust="spacingAndGlyphs">9.5</text>
<text x="303.37" y="699.64" font-size="25.77" textLength="27.26" lengthAdjust="spacingAndGlyphs">23</text>
<path d="M442.4 704.4 V753.4 H455" fill="none" stroke="#000" stroke-width="1.79"/>
<ellipse cx="443" cy="714.7" rx="1.8" ry="3" fill="#000"/>
<ellipse cx="443" cy="740.9" rx="1.8" ry="3" fill="#000"/>
<text x="456.19" y="763.45" font-size="25.21" textLength="31.76" lengthAdjust="spacingAndGlyphs">3.2</text>
</svg></body></html>
